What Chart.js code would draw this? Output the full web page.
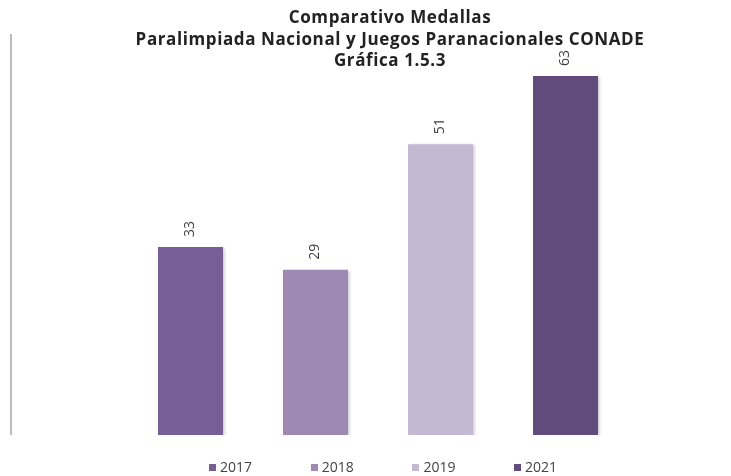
<!DOCTYPE html>
<html>
<head>
<meta charset="utf-8">
<script src="https://cdn.jsdelivr.net/npm/chart.js@4.4.1/dist/chart.umd.min.js"></script>
<style>
  body { margin: 0; background: #fff; }
  #wrap { position: relative; width: 731px; height: 476px; }
  #title {
    position: absolute; left: 7px; top: 6px; width: 766px;
    text-align: center; font-family: "Open Sans", sans-serif; font-weight: bold;
    font-size: 17px; letter-spacing: 0.6px; line-height: 21.5px; color: #222;
  }
  #legend { position: absolute; left: 209px; top: 457px; font-family: "Open Sans", sans-serif; font-size: 14px; color: #444; }
  #legend span.item { position: absolute; white-space: nowrap; }
  #legend span.box { display: inline-block; width: 7px; height: 7px; margin-right: 4px; vertical-align: 1px; }
</style>
</head>
<body>
<div id="wrap">
  <canvas id="chart" width="731" height="476"></canvas>
  <div id="title">Comparativo Medallas<br>Paralimpiada Nacional y Juegos Paranacionales CONADE<br>Gráfica 1.5.3</div>
  <div id="legend"></div>
</div>
<script>
const years = ["2017", "2018", "2019", "2021"];
const medallas = [33, 29, 51, 63];
const colores = ["#775e96", "#9d89b3", "#c4b9d2", "#624c7e"];

// etiquetas rotadas encima de cada barra
const etiquetas = {
  id: "etiquetas",
  afterDatasetsDraw(chart) {
    const ctx = chart.ctx;
    const meta = chart.getDatasetMeta(0);
    ctx.save();
    ctx.font = "14px 'Open Sans', sans-serif";
    ctx.fillStyle = "#404040";
    ctx.textAlign = "left";
    ctx.textBaseline = "middle";
    meta.data.forEach((bar, i) => {
      ctx.save();
      ctx.translate(bar.x, bar.y - 10);
      ctx.rotate(-Math.PI / 2);
      ctx.fillText(String(medallas[i]), 0, 0);
      ctx.restore();
    });
    ctx.restore();
  }
};

// sombra ligera de las barras
const sombra = {
  id: "sombra",
  beforeDatasetsDraw(chart) {
    const ctx = chart.ctx;
    ctx.save();
    ctx.shadowColor = "rgba(0,0,0,0.22)";
    ctx.shadowBlur = 3;
    ctx.shadowOffsetX = 1.5;
    ctx.shadowOffsetY = 1;
  },
  afterDatasetsDraw(chart) {
    chart.ctx.restore();
  }
};

// linea vertical de la izquierda
const lineaIzq = {
  id: "lineaIzq",
  afterDraw(chart) {
    const y = chart.scales.y;
    const ctx = chart.ctx;
    ctx.save();
    ctx.strokeStyle = "#a6a6a6";
    ctx.lineWidth = 1.5;
    ctx.beginPath();
    ctx.moveTo(11, y.getPixelForValue(y.max) - 2);
    ctx.lineTo(11, y.getPixelForValue(0));
    ctx.stroke();
    ctx.restore();
  }
};

new Chart(document.getElementById("chart"), {
  type: "bar",
  data: {
    labels: years,
    datasets: [{
      data: medallas,
      backgroundColor: colores,
      borderWidth: 0,
      barPercentage: 0.52,
      categoryPercentage: 1
    }]
  },
  options: {
    responsive: false,
    animation: false,
    layout: { padding: { left: 128, right: 103, top: 36, bottom: 41 } },
    plugins: { legend: { display: false }, tooltip: { enabled: false } },
    scales: {
      x: { display: false },
      y: { display: false, min: 0, max: 70 }
    }
  },
  plugins: [sombra, etiquetas, lineaIzq]
});

const leg = document.getElementById("legend");
years.forEach((y, i) => {
  const it = document.createElement("span");
  it.className = "item";
  it.style.left = (i * 101.7) + "px";
  it.innerHTML = '<span class="box" style="background:' + colores[i] + '"></span>' + y;
  leg.appendChild(it);
});
</script>
</body>
</html>
